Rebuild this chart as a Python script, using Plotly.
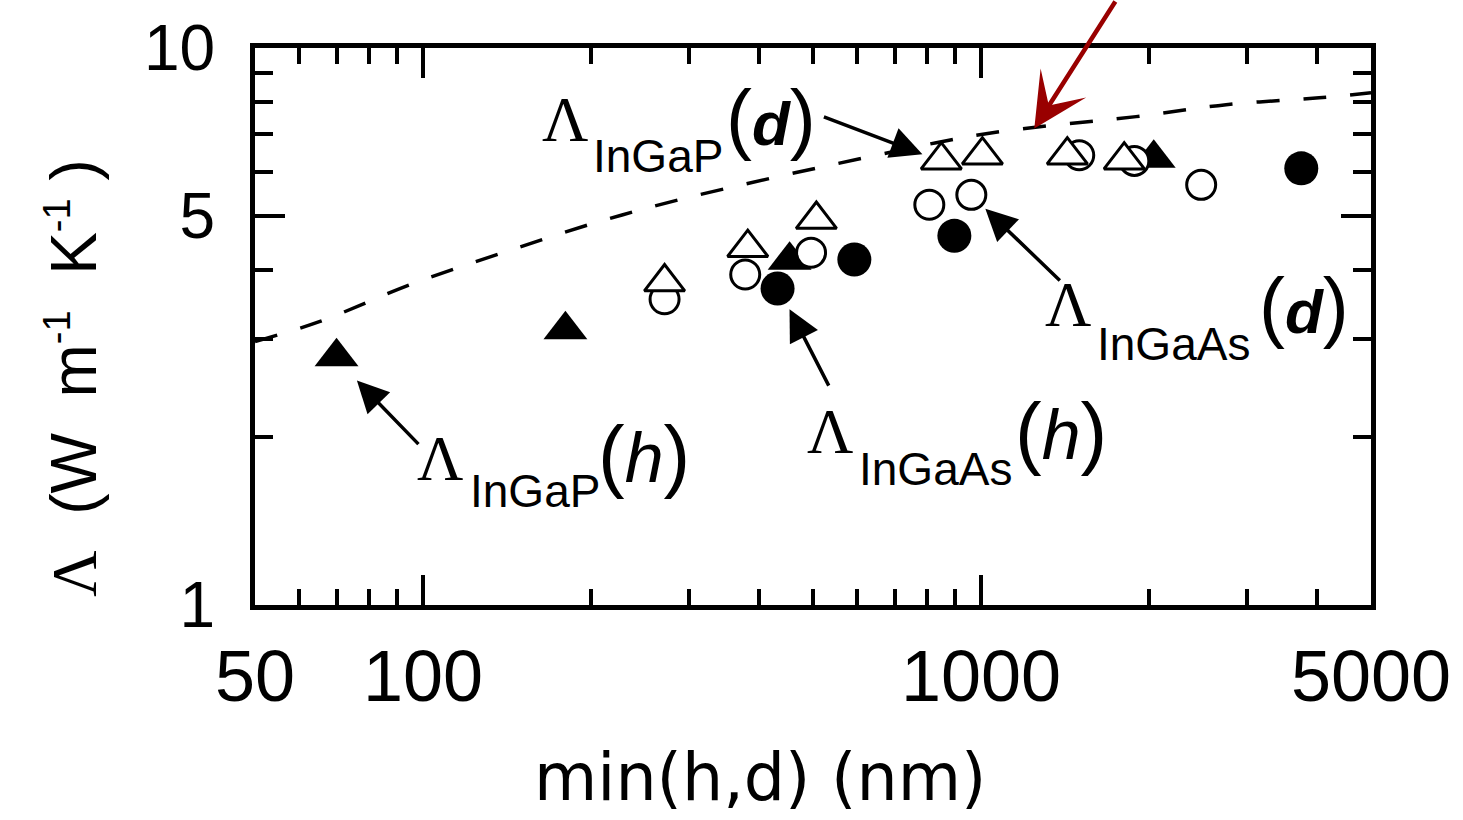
import plotly.graph_objects as go

# ---------------- data ----------------
ingap_h_x = [70, 180, 454, 2040]
ingap_h_y = [2.79, 3.12, 4.16, 6.34]

ingaas_h_x = [432, 593, 896, 3750]
ingaas_h_y = [3.70, 4.17, 4.60, 6.08]

ingap_d_x = [271, 382, 507, 849, 1006, 1428, 1806]
ingap_d_y = [3.80, 4.38, 4.92, 6.29, 6.42, 6.42, 6.29]

ingaas_d_x = [271, 378, 496, 808, 961, 1500, 1883, 2481]
ingaas_d_y = [3.54, 3.92, 4.29, 5.23, 5.45, 6.42, 6.27, 5.68]

model_x = [50, 65.4, 95.5, 139, 201.5, 292, 613, 1035, 1897, 2750, 4036, 5000]
model_y = [2.97, 3.23, 3.77, 4.29, 4.84, 5.36, 6.34, 7.03, 7.53, 7.91, 8.14, 8.31]

x_major = [50, 100, 1000, 5000]
x_major_text = ["50", "100", "1000", "5000"]
x_minor = [60, 70, 80, 90, 200, 300, 400, 500, 600, 700, 800, 900, 2000, 3000, 4000]
y_major = [1, 5, 10]
y_major_text = ["1", "5", "10"]
y_minor = [2, 3, 4, 6, 7, 8, 9]

# ---------------- layout geometry ----------------
W, H = 1463, 820
L, R, T, B = 255, 1372, 44, 605


def pp(px, py):
    return (px - L) / (R - L), (B - py) / (B - T)


SANS = "Liberation Sans"
SERIF = "Liberation Serif"
NB = "\u00a0"

fig = go.Figure()

fig.add_trace(go.Scatter(x=model_x, y=model_y, mode="lines",
                         line=dict(color="black", width=3.5, dash="23px,24px", shape="spline"),
                         showlegend=False, hoverinfo="skip"))
fig.add_trace(go.Scatter(x=ingaas_h_x, y=ingaas_h_y, mode="markers",
                         marker=dict(symbol="circle", size=34, color="black",
                                     line=dict(width=0)), showlegend=False))
fig.add_trace(go.Scatter(x=ingap_h_x, y=ingap_h_y, mode="markers",
                         marker=dict(symbol="triangle-up", size=38, color="black",
                                     line=dict(width=0)), showlegend=False))
fig.add_trace(go.Scatter(x=ingaas_d_x, y=ingaas_d_y, mode="markers",
                         marker=dict(symbol="circle", size=29, color="white",
                                     line=dict(width=3, color="black")), showlegend=False))
fig.add_trace(go.Scatter(x=ingap_d_x, y=ingap_d_y, mode="markers",
                         marker=dict(symbol="triangle-up", size=35, color="white",
                                     line=dict(width=3, color="black")), showlegend=False))

annotations = []


def label(lam_xy, sub_xy, par_xy, sub_text, var_html, par_size=78, var_size=62):
    x, y = pp(*lam_xy)
    annotations.append(dict(x=x, y=y, xref="paper", yref="paper", text="Λ",
                            showarrow=False, xanchor="left", yanchor="middle",
                            font=dict(family=SERIF, size=64, color="black")))
    x, y = pp(*sub_xy)
    annotations.append(dict(x=x, y=y, xref="paper", yref="paper", text=sub_text,
                            showarrow=False, xanchor="left", yanchor="middle",
                            font=dict(family=SANS, size=46, color="black")))
    x, y = pp(*par_xy)
    annotations.append(dict(x=x, y=y, xref="paper", yref="paper",
                            text="<span style='font-size:%dpx'>(</span>" % par_size + var_html +
                                 "<span style='font-size:%dpx'>)</span>" % par_size,
                            showarrow=False, xanchor="left", yanchor="middle",
                            font=dict(family=SANS, size=var_size, color="black")))


label((540, 116), (591, 153), (724, 114), "InGaP", "<b><i>d</i></b>")
label((1044, 302), (1096, 342), (1258, 304), "InGaAs", "<b><i>d</i></b>")
label((805, 430), (858, 468), (1014, 430), "InGaAs", "<i>h</i>", 80, 70)
label((415, 457), (468, 490), (596, 453), "InGaP", "<i>h</i>", 80, 70)


def arrow(tip, tail, color="black", width=3.5, head=2, size=1.8):
    x, y = pp(*tip)
    annotations.append(dict(x=x, y=y, xref="paper", yref="paper", text="",
                            showarrow=True, arrowhead=head, arrowsize=size,
                            arrowwidth=width, arrowcolor=color,
                            ax=tail[0] - tip[0], ay=tail[1] - tip[1],
                            axref="pixel", ayref="pixel", standoff=0))


arrow((923, 151), (823, 113))
arrow((986, 206), (1062, 279))
arrow((790, 307), (830, 385))
arrow((357, 379), (420, 444))
arrow((1035, 125), (1117, -4), color="#990000", width=4.5, head=3, size=2.0)

# axis titles
x, y = pp(760, 779)
annotations.append(dict(x=x, y=y, xref="paper", yref="paper", text="min(h,d) (nm)",
                        showarrow=False, xanchor="center", yanchor="middle",
                        font=dict(family="DejaVu Sans", size=65, color="black")))
x, y = pp(73, 376)
annotations.append(dict(x=x, y=y, xref="paper", yref="paper",
                        text="<span style='font-family:Liberation Serif'>Λ</span>" + NB + " (W" + NB + " m"
                             "<sup><span style='font-size:38px'>-1</span></sup>" + NB + " K"
                             "<sup><span style='font-size:38px'>-1</span></sup>" + NB + ")",
                        textangle=-90, showarrow=False, xanchor="center", yanchor="middle",
                        font=dict(family=SANS, size=64, color="black")))

axis_common = dict(type="log", showgrid=False, zeroline=False, showline=True,
                   linecolor="black", linewidth=5, mirror="allticks",
                   ticks="inside", ticklen=30, tickwidth=3.5, tickcolor="black")

fig.update_xaxes(range=[1.69897, 3.69897], tickmode="array", tickvals=x_major,
                 ticktext=x_major_text, tickfont=dict(family=SANS, size=72, color="black"),
                 ticklabelstandoff=5,
                 minor=dict(tickmode="array", tickvals=x_minor, ticks="inside",
                            ticklen=16, tickwidth=3.5, tickcolor="black", showgrid=False),
                 **axis_common)
fig.update_yaxes(range=[0, 1], tickmode="array", tickvals=y_major,
                 ticktext=y_major_text, tickfont=dict(family=SANS, size=64, color="black"),
                 ticklabelstandoff=22,
                 minor=dict(tickmode="array", tickvals=y_minor, ticks="inside",
                            ticklen=18, tickwidth=3.5, tickcolor="black", showgrid=False),
                 **axis_common)

fig.update_layout(width=W, height=H, autosize=False,
                  margin=dict(l=L, r=W - R, t=T, b=H - B, pad=0),
                  paper_bgcolor="white", plot_bgcolor="white",
                  annotations=annotations, showlegend=False)

fig.write_html("out.html", config={"displayModeBar": False})
